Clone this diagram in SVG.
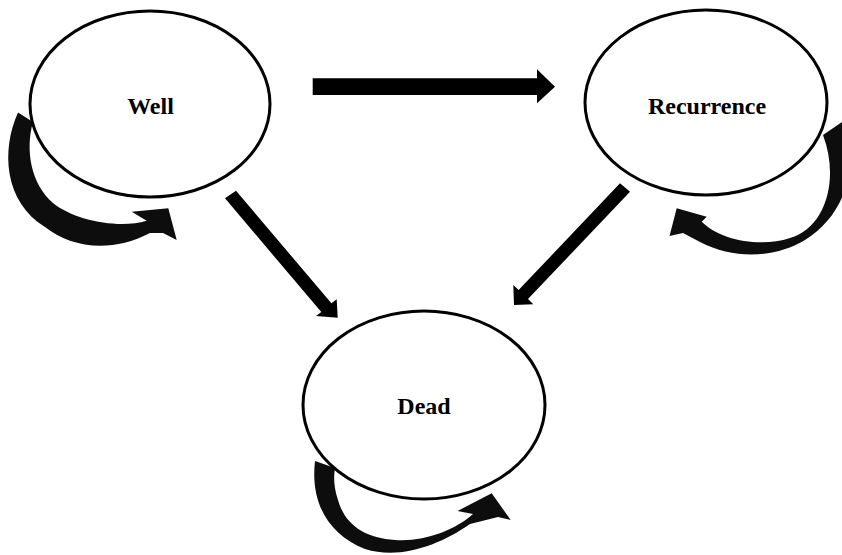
<svg xmlns="http://www.w3.org/2000/svg" width="842" height="555" viewBox="0 0 842 555">
<style>
.node ellipse { fill: #fff; stroke: #000; stroke-width: 3; }
.arrow { fill: #000; stroke: none; }
.loop { fill: #0d0d0d; stroke: none; }
</style>
<rect width="842" height="555" fill="#fff"/>
<g id="connectors">
  <path class="loop" d="M18,112.5 C1,150 4,202 45,227 C70,247 110,254 150,233 L163,233 L176.7,240 L168.3,208.3 L131.7,211.7 L146.7,220.7 C120,229 75,221 53,203 C31,184 25,150 33,122 Z"/>
  <path class="loop" d="M848,118 C858,170 845,215 805,240 C775,258 735,260 700,242 L683,233 L669.5,236 L676.7,208.3 L706.7,216.7 L701.7,221.7 C720,240 760,248 790,238 C825,228 840,180 823,135 Z"/>
  <path class="loop" d="M315,461 C310,505 330,535 365,549 C400,560 440,545 470,524 L498,517 L510.7,520 L491.7,493.3 L457.5,511 L473,514 C455,530 425,542 395,540 C365,538 345,525 338,500 C333,485 334,475 335,468 Z"/>
  <polygon class="arrow" points="312.7,78.3 537,78.3 537,69.3 555,86.7 537,103.3 537,95 312.7,95"/>
  <polygon class="arrow" points="225,198.3 236,190.7 331.4,303.3 336.7,299.3 337.7,317.7 316,316 321.3,312.1"/>
  <polygon class="arrow" points="620,183.3 630,191.7 528,299.1 533.3,304.3 514,305 513.3,285 518.6,290.1"/>
</g>
<g id="node-well" class="node">
  <ellipse cx="150" cy="104" rx="120" ry="93"/>
  <text x="150.5" y="114.3" font-family="'Liberation Serif', 'Times New Roman', 'DejaVu Serif', serif" font-weight="bold" font-size="24" text-anchor="middle" fill="#000">Well</text>
</g>
<g id="node-recurrence" class="node">
  <ellipse cx="706" cy="102.5" rx="121" ry="92.5"/>
  <text x="707" y="114.3" font-family="'Liberation Serif', 'Times New Roman', 'DejaVu Serif', serif" font-weight="bold" font-size="24" text-anchor="middle" fill="#000">Recurrence</text>
</g>
<g id="node-dead" class="node">
  <ellipse cx="424" cy="405" rx="121" ry="94"/>
  <text x="424" y="414.3" font-family="'Liberation Serif', 'Times New Roman', 'DejaVu Serif', serif" font-weight="bold" font-size="24" text-anchor="middle" fill="#000">Dead</text>
</g>
</svg>
